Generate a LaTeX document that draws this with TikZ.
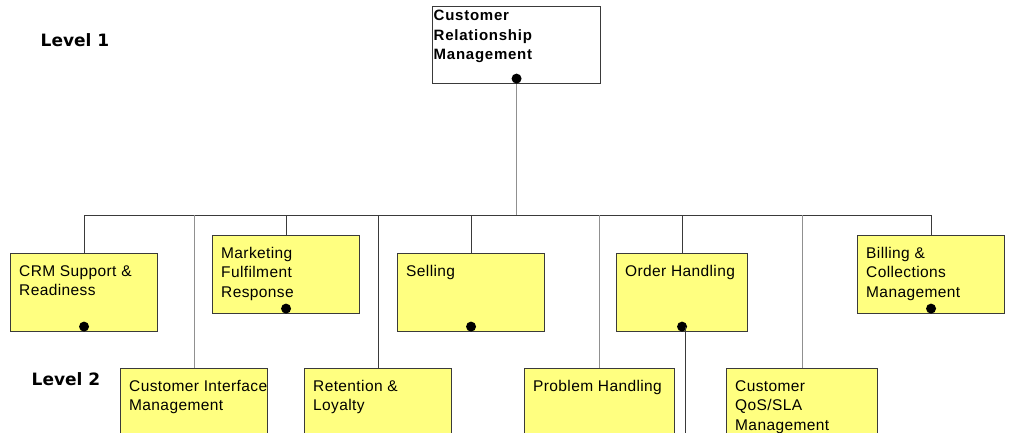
\documentclass[tikz,border=0pt]{standalone}
\usepackage{fontspec}
\setmainfont{Liberation Sans}
\newfontfamily\levelfont{DejaVu Sans}
\usetikzlibrary{positioning, calc}
\definecolor{crmyellow}{HTML}{FFFF80}
\definecolor{crmline}{HTML}{3A3A3A}
\definecolor{crmgrey}{HTML}{909090}

\begin{document}
\begin{tikzpicture}[
    x=1pt, y=-1pt,
    level/.style={font=\levelfont\bfseries\fontsize{17}{20}\selectfont, inner sep=0pt},
    boxtext/.style={anchor=north west, align=left, inner xsep=9pt, inner ysep=12pt, font=\fontsize{15.5}{19.5}\selectfont\addfontfeature{LetterSpace=2.5}},
    toptext/.style={anchor=north west, align=left, inner xsep=1.5pt, inner ysep=4pt, font=\bfseries\fontsize{15}{19.5}\selectfont\addfontfeature{LetterSpace=5}},
    process/.style={draw=crmline, line width=1.1pt, fill=crmyellow, rectangle, anchor=north west, minimum width=147pt, minimum height=78pt, inner sep=0pt, label={[boxtext]north west:#1}},
    root/.style={draw=crmline, line width=1.1pt, fill=white, rectangle, anchor=north west, minimum width=168pt, minimum height=77pt, inner sep=0pt, label={[toptext]north west:#1}},
    dot/.style={circle, fill=black, inner sep=0pt, minimum size=10pt},
    link/.style={crmline, line width=1pt},
    linklight/.style={crmgrey, line width=1pt}
]
\useasboundingbox (0,0) rectangle (1024,433);
\clip (0,0) rectangle (1024,433);

% Nodes
\node[level] (lvl1) at (75,40) {Level 1};
\node[level] (lvl2) at (66,379) {Level 2};

\node[root={Customer\\Relationship\\Management}] (crm) at (432,6) {};

\node[process={CRM Support \&\\Readiness}] (support) at (10,253) {};
\node[process={Marketing\\Fulfilment\\Response}] (marketing) at (212,235) {};
\node[process={Selling}] (selling) at (397,253) {};
\node[process={Order Handling}, minimum width=131pt] (order) at (616,253) {};
\node[process={Billing \&\\Collections\\Management}] (billing) at (857,235) {};

\node[process={Customer Interface\\Management}] (interface) at (120,368) {};
\node[process={Retention \&\\Loyalty}] (retention) at (304,368) {};
\node[process={Problem Handling}, minimum width=150pt] (problem) at (524,368) {};
\node[process={Customer\\QoS/SLA\\Management}, minimum width=151pt] (qos) at (726,368) {};

\node[dot] (crmdot) at ([yshift=5.5pt]crm.south) {};
\node[dot] (supportdot) at ([yshift=5.5pt]support.south) {};
\node[dot] (marketingdot) at ([yshift=5.5pt]marketing.south) {};
\node[dot] (sellingdot) at ([yshift=5.5pt]selling.south) {};
\node[dot] (orderdot) at ([yshift=5.5pt]order.south) {};
\node[dot] (billingdot) at ([yshift=5.5pt]billing.south) {};

\coordinate (bus) at (516,215);
\coordinate (orderexit) at (685,445);

% Connections
\draw[linklight] (crmdot) -- (crmdot |- bus);
\draw[link] (support.north |- bus) -- (billing.north |- bus);

\draw[link] (support.north) -- (support.north |- bus);
\draw[link] (marketing.north) -- (marketing.north |- bus);
\draw[link] (selling.north) -- (selling.north |- bus);
\draw[link] (order.north) -- (order.north |- bus);
\draw[link] (billing.north) -- (billing.north |- bus);

\draw[linklight] (interface.north) -- (interface.north |- bus);
\draw[link] (retention.north) -- (retention.north |- bus);
\draw[linklight] (problem.north) -- (problem.north |- bus);
\draw[linklight] (qos.north) -- (qos.north |- bus);

\draw[link] (orderexit |- orderdot) -- (orderexit);

\end{tikzpicture}
\end{document}
